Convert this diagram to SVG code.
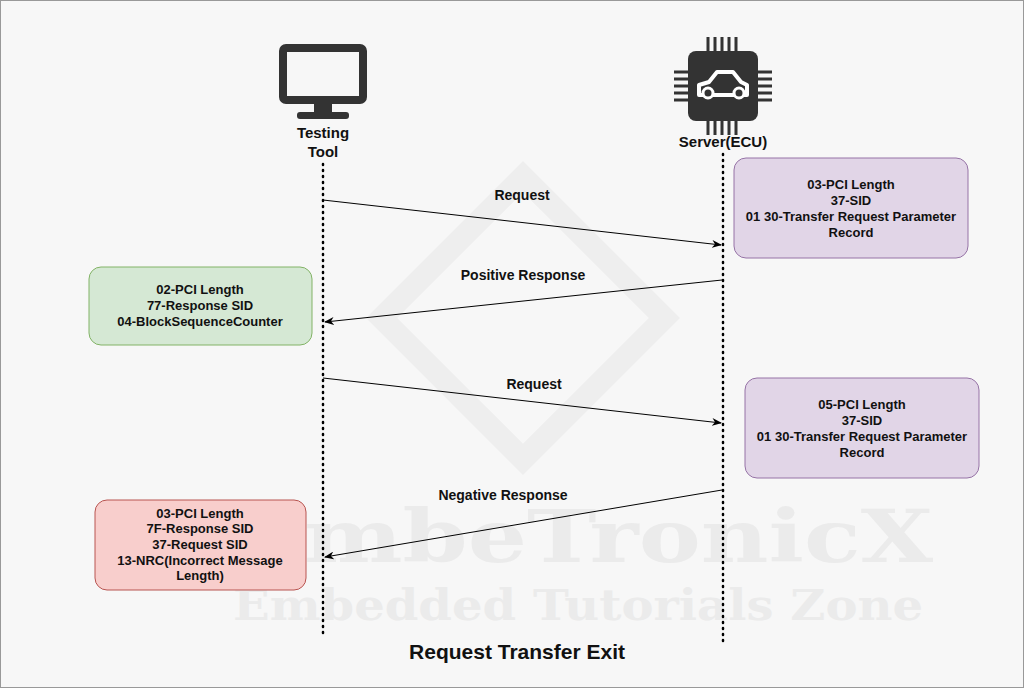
<svg xmlns="http://www.w3.org/2000/svg" width="1024" height="688" viewBox="0 0 1024 688">
<defs>
<style>
text{font-family:"Liberation Sans",Arial,sans-serif;font-weight:bold;fill:#111;text-anchor:middle}
.t{font-size:13px}
.life{stroke:#000;stroke-width:2.5;stroke-dasharray:1 5;stroke-linecap:round}
.msg{stroke:#000;stroke-width:1;fill:none;marker-end:url(#ah)}
.box{stroke-width:1}
.wm{fill:#ebebeb;font-family:"DejaVu Serif",serif}
</style>
<marker id="ah" markerWidth="10" markerHeight="8" refX="9" refY="4" orient="auto" markerUnits="userSpaceOnUse">
<path d="M0,0 L10,4 L0,8 L3,4 Z" fill="#000"/>
</marker>
</defs>
<rect x="0.5" y="0.5" width="1023" height="687" fill="#f7f7f7" stroke="#999"/>
<g id="watermark">
<rect x="423" y="218" width="200" height="200" transform="rotate(45 523 318)" fill="none" stroke="#eeeeee" stroke-width="22"/>
<text class="wm" x="583" y="562" font-size="72" textLength="700" lengthAdjust="spacingAndGlyphs">EmbeTronicX</text>
<text class="wm" x="578" y="620" font-size="42" textLength="690" lengthAdjust="spacingAndGlyphs">Embedded Tutorials Zone</text>
</g>
<g id="tester">
<rect x="283" y="48" width="80" height="52" rx="3" fill="none" stroke="#333" stroke-width="8"/>
<rect x="314" y="104" width="18" height="10" fill="#333"/>
<rect x="297" y="112" width="52" height="7" rx="3" fill="#333"/>
<text x="323" y="138" font-size="15">Testing</text>
<text x="323" y="157" font-size="15">Tool</text>
</g>
<g id="ecu">
<rect x="688" y="51" width="70" height="70" rx="8" fill="#333"/>
<g stroke="#333" stroke-width="3">
<path d="M708,37v14M715,37v14M722,37v14M729,37v14M736,37v14M708,121v14M715,121v14M722,121v14M729,121v14M736,121v14M674,72h14M674,79h14M674,86h14M674,93h14M674,100h14M758,72h14M758,79h14M758,86h14M758,93h14M758,100h14"/>
</g>
<path d="M699,95 v-10 l10,-3 l8,-10 h16 l8,10 l6,3 v10 z" fill="none" stroke="#fff" stroke-width="4" stroke-linejoin="round"/>
<circle cx="708" cy="93" r="5" fill="#333" stroke="#fff" stroke-width="3"/>
<circle cx="739" cy="93" r="5" fill="#333" stroke="#fff" stroke-width="3"/>
<text x="723" y="147" font-size="15">Server(ECU)</text>
</g>
<g id="connectors">
<line class="life" x1="323" y1="164" x2="323" y2="636"/>
<line class="life" x1="723" y1="154" x2="723" y2="646"/>
<line class="msg" x1="323" y1="200" x2="721" y2="245"/>
<line class="msg" x1="722" y1="280" x2="325" y2="322"/>
<line class="msg" x1="323" y1="378" x2="721" y2="423"/>
<line class="msg" x1="722" y1="490" x2="325" y2="557"/>
<text x="522" y="200" font-size="14">Request</text>
<text x="523" y="280" font-size="14">Positive Response</text>
<text x="534" y="389" font-size="14">Request</text>
<text x="503" y="500" font-size="14">Negative Response</text>
</g>
<g id="req1">
<rect class="box" x="734" y="158" width="234" height="100" rx="12" fill="#e1d5e7" stroke="#9673a6"/>
<text class="t" x="851" y="189">03-PCI Length</text>
<text class="t" x="851" y="205">37-SID</text>
<text class="t" x="851" y="221">01 30-Transfer Request Parameter</text>
<text class="t" x="851" y="237">Record</text>
</g>
<g id="pos">
<rect class="box" x="89" y="267" width="223" height="78" rx="12" fill="#d5e8d4" stroke="#82b366"/>
<text class="t" x="200" y="294">02-PCI Length</text>
<text class="t" x="200" y="310">77-Response SID</text>
<text class="t" x="200" y="326">04-BlockSequenceCounter</text>
</g>
<g id="req2">
<rect class="box" x="745" y="378" width="234" height="100" rx="12" fill="#e1d5e7" stroke="#9673a6"/>
<text class="t" x="862" y="409">05-PCI Length</text>
<text class="t" x="862" y="425">37-SID</text>
<text class="t" x="862" y="441">01 30-Transfer Request Parameter</text>
<text class="t" x="862" y="457">Record</text>
</g>
<g id="neg">
<rect class="box" x="95" y="500" width="211" height="90" rx="12" fill="#f8cecc" stroke="#b85450"/>
<text class="t" x="200" y="518">03-PCI Length</text>
<text class="t" x="200" y="533">7F-Response SID</text>
<text class="t" x="200" y="549">37-Request SID</text>
<text class="t" x="200" y="565">13-NRC(Incorrect Message</text>
<text class="t" x="200" y="580">Length)</text>
</g>
<text x="517" y="659" font-size="21">Request Transfer Exit</text>
</svg>
